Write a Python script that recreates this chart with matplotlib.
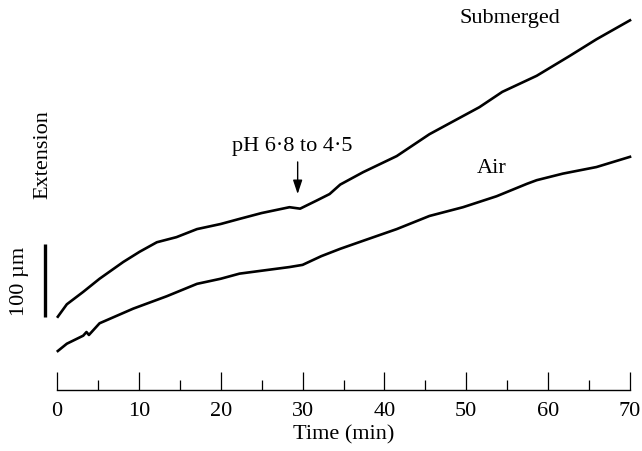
import matplotlib
matplotlib.use('Agg')
import matplotlib.pyplot as plt
import matplotlib.ticker as ticker
import numpy as np

plt.rcParams['font.family'] = ['Liberation Serif', 'DejaVu Serif']

# Extension traces (time in min, extension in um,
# zero = start of the Air trace)
sub_time = [0.1, 1.2, 3.2, 5.2, 8.1, 10.1, 12.2, 14.6, 17.1, 20.0, 22.3,
            25.0, 28.4, 29.7, 31.7, 33.3, 34.6, 37.4, 41.5, 45.5, 48.3,
            51.6, 54.4, 58.6, 62.6, 65.9, 70.0]
sub_ext = [47, 64, 81, 99, 122, 136, 149, 156, 167, 174, 181,
           189, 197, 195, 206, 215, 228, 245, 267, 297, 314,
           334, 355, 377, 404, 427, 453]

air_time = [0.1, 1.2, 3.2, 3.6, 3.9, 5.2, 9.3, 13.4, 17.1, 20.0, 22.3,
            25.0, 28.4, 30.0, 32.3, 34.6, 37.4, 41.5, 45.5, 49.6, 53.7,
            57.4, 58.6, 61.8, 65.9, 70.0]
air_ext = [0, 10, 21, 26, 22, 38, 58, 75, 92, 99, 106,
           110, 115, 118, 130, 140, 151, 167, 185, 197, 212,
           229, 234, 243, 252, 266]

x_major = [0, 10, 20, 30, 40, 50, 60, 70]
scale_bar = [47, 147]   # 100 um

fig = plt.figure(figsize=(6.42, 4.52), dpi=100)
ax = fig.add_axes([57 / 642, 61 / 452, 573 / 642, 381 / 452])

ax.plot(sub_time, sub_ext, color='black', lw=1.9, clip_on=False)
ax.plot(air_time, air_ext, color='black', lw=1.9, clip_on=False)

ax.set_xlim(0, 70)
ax.set_ylim(-53.4, 468.5)

for side in ['top', 'right', 'left']:
    ax.spines[side].set_visible(False)
ax.spines['bottom'].set_linewidth(1.0)
ax.yaxis.set_visible(False)

ax.set_xticks(x_major)
ax.xaxis.set_minor_locator(ticker.MultipleLocator(5))
ax.tick_params(axis='x', which='major', direction='in', length=13,
               width=0.9, pad=8, labelsize=16)
ax.tick_params(axis='x', which='minor', direction='in', length=7,
               width=0.9)
ax.set_xlabel('Time (min)', fontsize=16, labelpad=3)

# scale bar
ax.plot([-1.47, -1.47], scale_bar, color='black', lw=2.4, clip_on=False,
        solid_capstyle='butt')
ax.text(-4.64, np.mean(scale_bar), '100 µm', rotation=90, fontsize=16,
        ha='center', va='center')
ax.text(-1.71, 270, 'Extension', rotation=90, fontsize=16,
        ha='center', va='center')

ax.text(55.3, 457, 'Submerged', fontsize=16, ha='center', va='center')
ax.text(53.1, 252, 'Air', fontsize=16, ha='center', va='center')
ax.annotate('', xy=(29.4, 215), xytext=(29.4, 259),
            arrowprops=dict(arrowstyle='-|>,head_length=0.6,head_width=0.2',
                            color='black', lw=1.0,
                            mutation_scale=14, shrinkA=0, shrinkB=0))
ax.text(28.8, 282, 'pH 6·8 to 4·5', fontsize=16, ha='center',
        va='center')

fig.savefig('out.png', dpi=100)
